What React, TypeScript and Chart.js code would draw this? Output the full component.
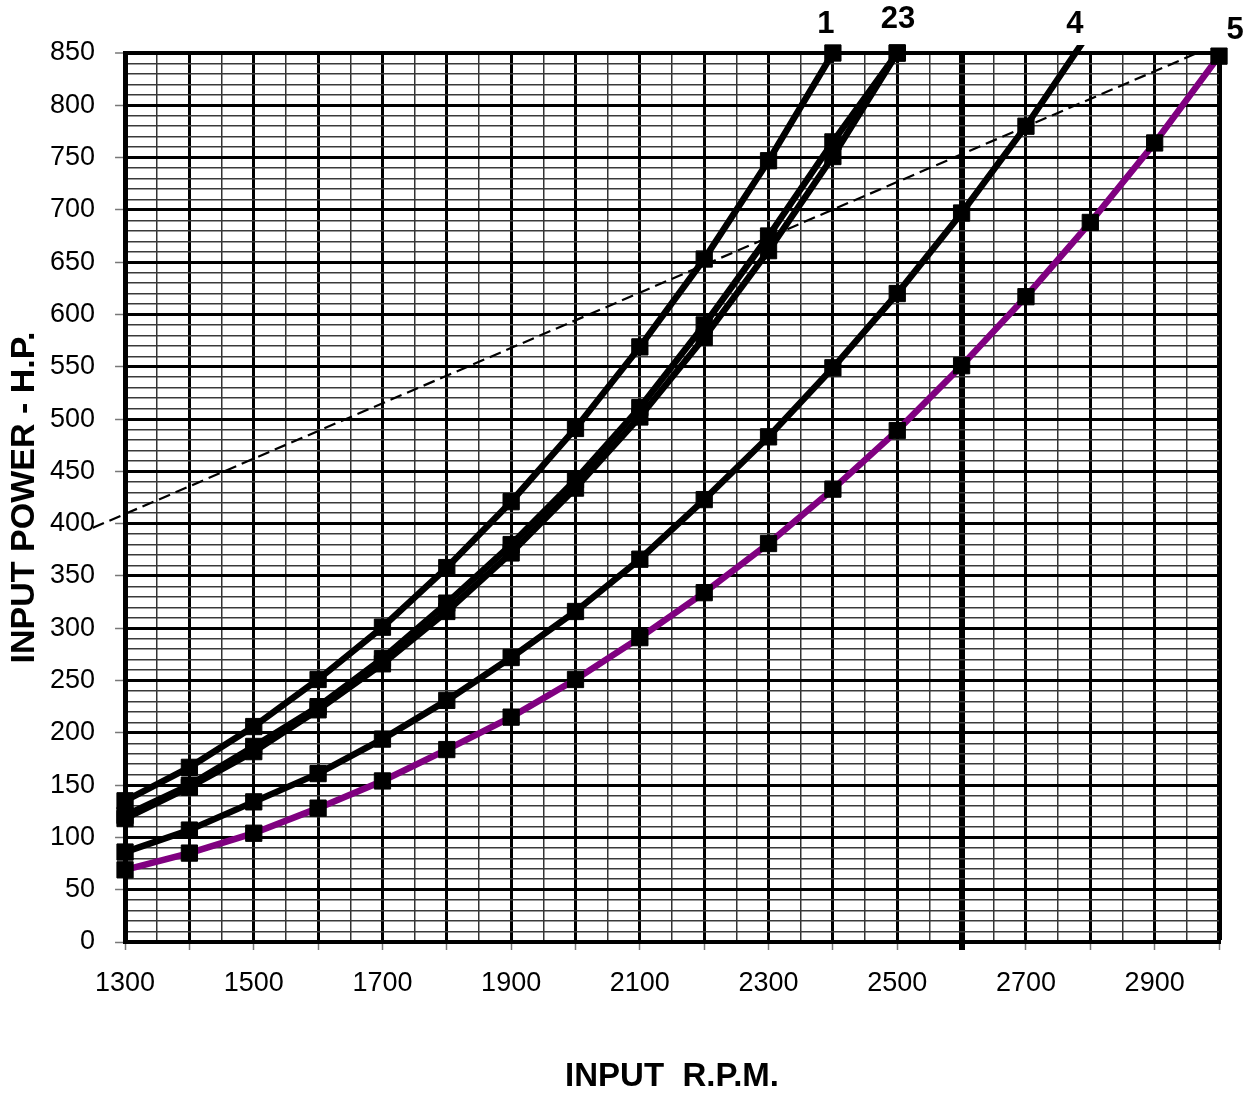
import React, { useEffect, useRef } from 'react';
import { Chart, registerables } from 'chart.js';

Chart.register(...registerables);

// ---- data ----
const rpm = [1300, 1400, 1500, 1600, 1700, 1800, 1900, 2000, 2100, 2200, 2300, 2400, 2500, 2600, 2700, 2800, 2900, 3000];

const curve1HP = [135, 167, 206, 251, 301, 358, 421, 491, 569, 653, 747, 850];
const curve2HP = [121, 150, 187, 225, 271, 324, 380, 442, 511, 590, 675, 765, 850];
const curve3HP = [118, 148, 182, 222, 266, 316, 372, 434, 502, 578, 661, 751, 850];
const curve4HP = [86, 107, 134, 161, 194, 231, 272, 316, 366, 423, 483, 549, 620, 697, 780, 871];
const curve5HP = [69, 85, 104, 128, 154, 184, 215, 251, 291, 334, 381, 433, 489, 551, 617, 688, 764, 847];

const limitRpm = [1250, 3000];
const limitHP = [396, 859];

const curveLabels = ['1', '23', '4', '5'];
const curveLabelRpm = [2389, 2501, 2776, 3025];
const curveLabelHP = [877, 882, 877, 872];

const referenceRpm = 2600;

const xTitle = 'INPUT  R.P.M.';
const yTitle = 'INPUT POWER - H.P.';

const FONT = '"Liberation Sans", Arial, Helvetica, sans-serif';

function pts(values: number[], xs: number[] = rpm) {
  return values.map((v, i) => ({ x: xs[i], y: v }));
}

const curveLabelPlugin = {
  id: 'curveLabels',
  afterDatasetsDraw(chart: any) {
    const { ctx, scales } = chart;
    const x = scales.x;
    const y = scales.y;
    ctx.save();
    ctx.font = `bold 31px ${FONT}`;
    ctx.fillStyle = '#000';
    ctx.textAlign = 'center';
    ctx.textBaseline = 'middle';
    curveLabels.forEach((t, i) => {
      ctx.fillText(t, x.getPixelForValue(curveLabelRpm[i]), y.getPixelForValue(curveLabelHP[i]));
    });
    ctx.restore();
  },
};

export default function App() {
  const ref = useRef<HTMLCanvasElement | null>(null);

  useEffect(() => {
    if (!ref.current) return;
    const clipStd = { left: 12, top: 12, right: 12, bottom: 12 };
    const curveStyle = (color: string) => ({
      borderColor: color,
      borderWidth: 6.5,
      pointStyle: 'rect' as const,
      pointRadius: 11.5,
      pointBorderWidth: 1,
      pointBackgroundColor: '#000',
      pointBorderColor: '#000',
      tension: 0,
      fill: false,
    });
    const chart = new Chart(ref.current, {
      type: 'line',
      data: {
        datasets: [
          { label: '1', data: pts(curve1HP), ...curveStyle('#000'), clip: clipStd },
          { label: '2', data: pts(curve2HP), ...curveStyle('#000'), clip: clipStd },
          { label: '3', data: pts(curve3HP), ...curveStyle('#000'), clip: clipStd },
          {
            label: '4',
            data: pts(curve4HP),
            ...curveStyle('#000'),
            pointRadius: (c: any) => (c.dataIndex === curve4HP.length - 1 ? 0 : 11.5),
            clip: { left: 12, top: 8, right: 12, bottom: 12 },
          },
          { label: '5', data: pts(curve5HP), ...curveStyle('#800080'), clip: clipStd },
          {
            label: 'limit',
            data: pts(limitHP, limitRpm),
            borderColor: '#000',
            borderWidth: 2.2,
            borderDash: [12, 6],
            pointRadius: 0,
            tension: 0,
            fill: false,
            clip: { left: 40, top: 0, right: 0, bottom: 0 },
          },
        ] as any,
      },
      options: {
        responsive: false,
        animation: false,
        devicePixelRatio: 1,
        layout: { padding: { top: 53, right: 35, bottom: 0, left: 20 } },
        plugins: {
          legend: { display: false },
          tooltip: { enabled: false },
          title: { display: false },
        },
        scales: {
          x: {
            type: 'linear',
            min: 1300,
            max: 3000,
            ticks: {
              stepSize: 50,
              autoSkip: false,
              maxRotation: 0,
              minRotation: 0,
              padding: 17.8,
              color: '#000',
              font: { family: FONT, size: 27 },
              callback: (v: any) => {
                const n = Math.round(Number(v));
                return n % 200 === 100 && n <= 2900 ? String(n) : '';
              },
            },
            grid: {
              color: (c: any) => {
                const v = Math.round(c.tick?.value ?? 0);
                return v % 100 === 0 ? '#000' : '#333';
              },
              lineWidth: (c: any) => {
                const v = Math.round(c.tick?.value ?? 0);
                if (v === referenceRpm) return 6;
                if (v === 3000) return 5;
                return v % 100 === 0 ? 3 : 1.5;
              },
              tickColor: (c: any) => {
                const v = Math.round(c.tick?.value ?? 0);
                if (v === referenceRpm) return '#000';
                return v % 100 === 0 ? '#777' : 'rgba(0,0,0,0)';
              },
              tickWidth: (c: any) => {
                const v = Math.round(c.tick?.value ?? 0);
                return v === referenceRpm ? 6 : 1.5;
              },
              tickLength: 8,
            },
            border: { display: true, color: '#000', width: 4 },
            title: {
              display: true,
              text: xTitle,
              color: '#000',
              font: { family: FONT, size: 33, weight: 'bold' },
              padding: { top: 39.2, bottom: 0.2 },
            },
          },
          y: {
            type: 'linear',
            min: 0,
            max: 850,
            ticks: {
              stepSize: 10,
              autoSkip: false,
              padding: 20,
              color: '#000',
              font: { family: FONT, size: 27 },
              callback: (v: any) => {
                const n = Math.round(Number(v));
                return n % 50 === 0 ? String(n) : '';
              },
            },
            grid: {
              color: (c: any) => {
                const v = Math.round(c.tick?.value ?? 0);
                return v % 50 === 0 ? '#000' : '#3a3a3a';
              },
              lineWidth: (c: any) => {
                const v = Math.round(c.tick?.value ?? 0);
                if (v === 850) return 4;
                return v % 50 === 0 ? 3 : 1.5;
              },
              tickColor: (c: any) => {
                const v = Math.round(c.tick?.value ?? 0);
                return v % 50 === 0 ? '#777' : 'rgba(0,0,0,0)';
              },
              tickWidth: 1.5,
              tickLength: 10,
            },
            border: { display: true, color: '#000', width: 5 },
            title: {
              display: true,
              text: yTitle,
              color: '#000',
              font: { family: FONT, size: 34, weight: 'bold', lineHeight: 10 / 34 },
              padding: { top: 0, bottom: 0 },
            },
          },
        },
      } as any,
      plugins: [curveLabelPlugin],
    });
    return () => chart.destroy();
  }, []);

  return (
    <canvas
      ref={ref}
      width={1254}
      height={1097}
      style={{ position: 'fixed', left: 0, top: 0, display: 'block', background: '#fff' }}
    />
  );
}
